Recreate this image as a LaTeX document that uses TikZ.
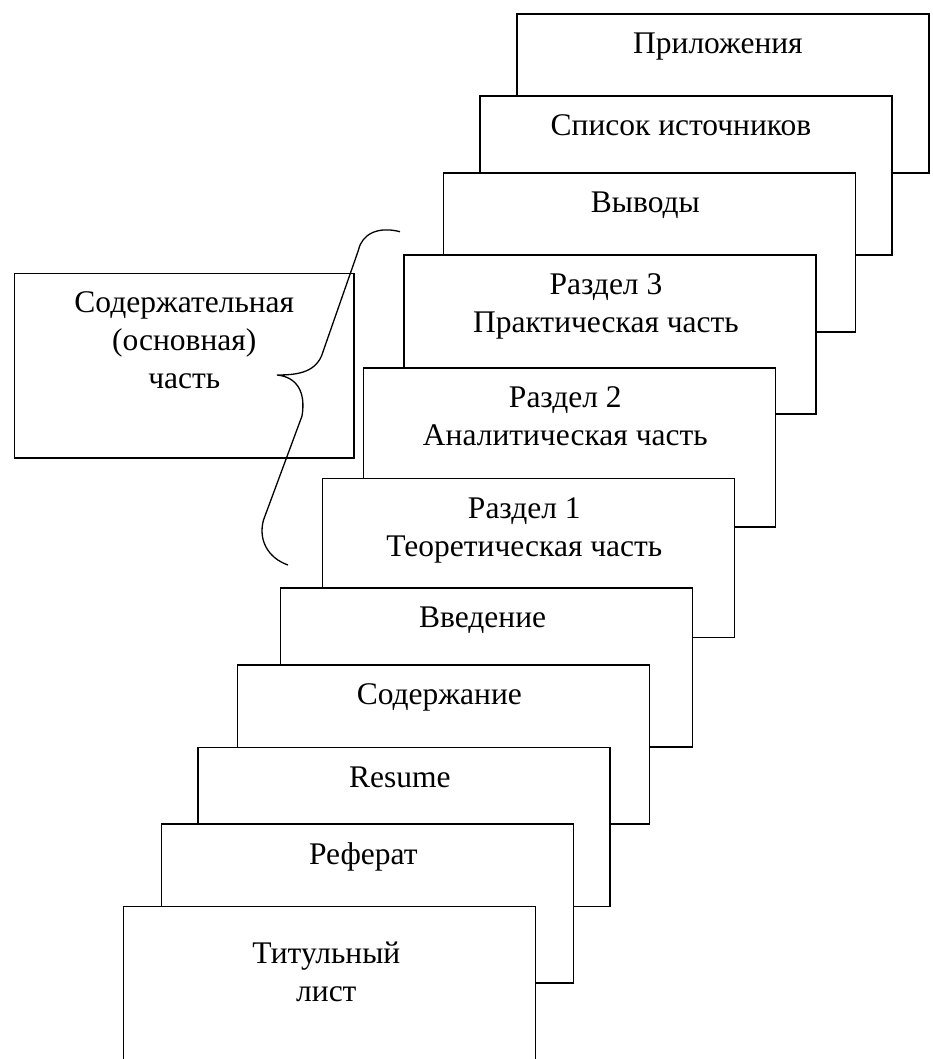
\documentclass[tikz,border=0pt]{standalone}
\usepackage{fontspec}
\setmainfont{Liberation Serif}
\begin{document}
\begin{tikzpicture}[x=1pt,y=-1pt,line width=1.3pt,
  page/.style={draw,fill=white,minimum width=412pt,minimum height=159pt,inner sep=0pt,anchor=north west,line width=1.3pt},
  lbl/.style={anchor=north,inner sep=0pt,align=center,font=\fontsize{31.5}{38}\selectfont}]
\useasboundingbox (0,0) rectangle (932,1059);
\clip (0,0) rectangle (932,1059);

\node[page] (p11) at (516.3,13.3) {};
\node[lbl] (t11) at ([xshift=-5pt,yshift=-13.4pt]p11.north) {\strut Приложения};
\node[page] (p10) at (479.3,95.3) {};
\node[lbl] (t10) at ([xshift=-5pt,yshift=-13.4pt]p10.north) {\strut Список источников};
\node[page] (p9) at (442.7,172.3) {};
\node[lbl] (t9) at ([xshift=-4pt,yshift=-13.4pt]p9.north) {\strut Выводы};
\node[page] (p8) at (403.3,254.3) {};
\node[lbl] (t8) at ([xshift=-4pt,yshift=-13.4pt]p8.north) {\strut Раздел 3\\\strut Практическая часть};
\node[page] (p7) at (362.7,367.3) {};
\node[lbl] (t7) at ([xshift=-4pt,yshift=-13.4pt]p7.north) {\strut Раздел 2\\\strut Аналитическая часть};
\node[page] (p6) at (321.7,477.7) {};
\node[lbl] (t6) at ([xshift=-4pt,yshift=-13.4pt]p6.north) {\strut Раздел 1\\\strut Теоретическая часть};
\node[page] (p5) at (280,587.3) {};
\node[lbl] (t5) at ([xshift=-4pt,yshift=-13.4pt]p5.north) {\strut Введение};
\node[page] (p4) at (236.7,664.3) {};
\node[lbl] (t4) at ([xshift=-4pt,yshift=-13.4pt]p4.north) {\strut Содержание};
\node[page] (p3) at (197.3,746.7) {};
\node[lbl] (t3) at ([xshift=-4pt,yshift=-13.4pt]p3.north) {\strut Resume};
\node[page] (p2) at (160.7,823.3) {};
\node[lbl] (t2) at ([xshift=-4pt,yshift=-14.4pt]p2.north) {\strut Реферат};
\node[page] (p1) at (122.7,906) {};
\node[lbl] (t1) at ([xshift=-3pt,yshift=-30.4pt]p1.north) {\strut Титульный\\\strut лист};

\node[draw,minimum width=339.3pt,minimum height=184.6pt,inner sep=0pt,anchor=north west] (main) at (14,272.7) {};
\node[lbl] (tm) at ([yshift=-12.4pt]main.north) {\strut Содержательная\\\strut (основная)\\\strut часть};

\coordinate (btop) at (400,231.7);
\coordinate (btip) at (277,375);
\coordinate (bbot) at (288,565);
\draw (btop) .. controls (378,226) and (362,234) .. (358.5,250)
  -- (321.5,356) .. controls (314,373) and (296,375) .. (btip)
  .. controls (297,377) and (306,392) .. (302,416)
  -- (263.5,520) .. controls (258,540) and (268,558) .. (bbot);
\end{tikzpicture}
\end{document}
